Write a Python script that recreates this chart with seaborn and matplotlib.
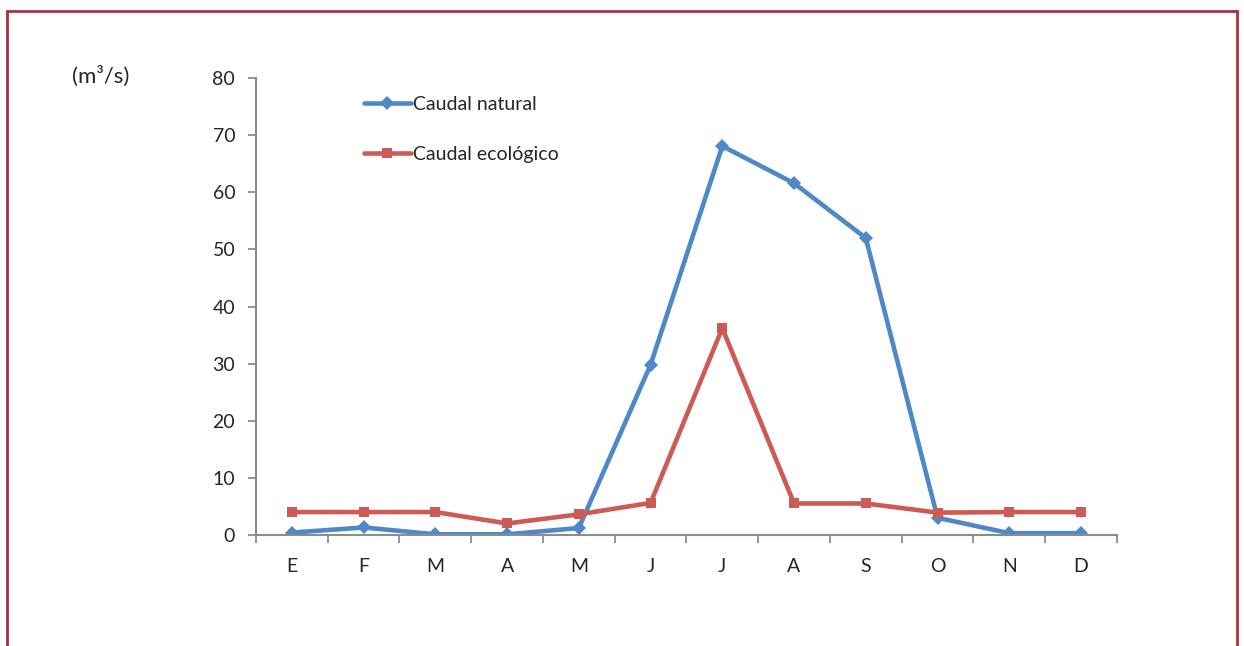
import pandas as pd
import numpy as np
import matplotlib
matplotlib.use("Agg")
import matplotlib.pyplot as plt
import seaborn as sns
from matplotlib.patches import Rectangle
from matplotlib.lines import Line2D

meses = ['E', 'F', 'M', 'A', 'M', 'J', 'J', 'A', 'S', 'O', 'N', 'D']
caudal_natural = [0.4, 1.3, 0.1, 0.1, 1.2, 29.8, 68.1, 61.6, 52.0, 3.0, 0.3, 0.3]
caudal_ecologico = [4.0, 4.0, 4.0, 2.0, 3.6, 5.6, 36.2, 5.5, 5.5, 3.9, 4.0, 4.0]

sns.set_style("white")
plt.rcParams['font.family'] = ['Lato', 'DejaVu Sans']

df = pd.DataFrame({
    'pos': list(range(12)) * 2,
    'valor': caudal_natural + caudal_ecologico,
    'serie': ['Caudal natural'] * 12 + ['Caudal ecológico'] * 12,
})

azul = '#4F88C6'
rojo = '#CD5B55'
gris = '#8C8C8C'
fs = 14

fig = plt.figure(figsize=(12.44, 6.46), dpi=100)
ax = fig.add_axes([0.2058, 0.172, 0.692, 0.707])

sns.lineplot(data=df, x='pos', y='valor', hue='serie', style='serie',
             palette={'Caudal natural': azul, 'Caudal ecológico': rojo},
             markers={'Caudal natural': 'D', 'Caudal ecológico': 's'},
             dashes=False, linewidth=3.3, markersize=7, markeredgewidth=0,
             legend=False, ax=ax)

ax.set_xlim(-0.5, 11.5)
ax.set_ylim(0, 80)
ax.set_yticks(range(0, 81, 10))
ax.set_xticks(range(12))
ax.set_xticklabels(meses)
ax.set_xticks(np.arange(-0.5, 12, 1), minor=True)
ax.tick_params(axis='x', which='major', bottom=False, pad=13, labelsize=fs)
ax.tick_params(axis='x', which='minor', bottom=True, length=6, width=1.3, color=gris, direction='out')
ax.tick_params(axis='y', left=True, length=6, width=1.3, color=gris, direction='out', pad=9, labelsize=fs)
ax.set_xlabel('')
ax.set_ylabel('')
for s in ['top', 'right']:
    ax.spines[s].set_visible(False)
for s in ['left', 'bottom']:
    ax.spines[s].set_color(gris)
    ax.spines[s].set_linewidth(1.5)

# leyenda dentro del área del gráfico, sin marco
handles = [
    Line2D([], [], color=azul, lw=3.3, marker='D', markersize=7, markeredgewidth=0),
    Line2D([], [], color=rojo, lw=3.3, marker='s', markersize=7, markeredgewidth=0),
]
ax.legend(handles, ['Caudal natural', 'Caudal ecológico'], loc='upper left',
          bbox_to_anchor=(0.105, 1.0), frameon=False, fontsize=fs,
          handlelength=2.4, handletextpad=0.15, labelspacing=1.7)

fig.text(0.058, 0.882, '(m³/s)', fontsize=16, va='center', ha='left')

fig.patches.append(Rectangle((0.006, -0.05), 0.988, 1.033, transform=fig.transFigure,
                             fill=False, edgecolor='#A6323B', linewidth=2))

fig.savefig('out.png', dpi=100)
